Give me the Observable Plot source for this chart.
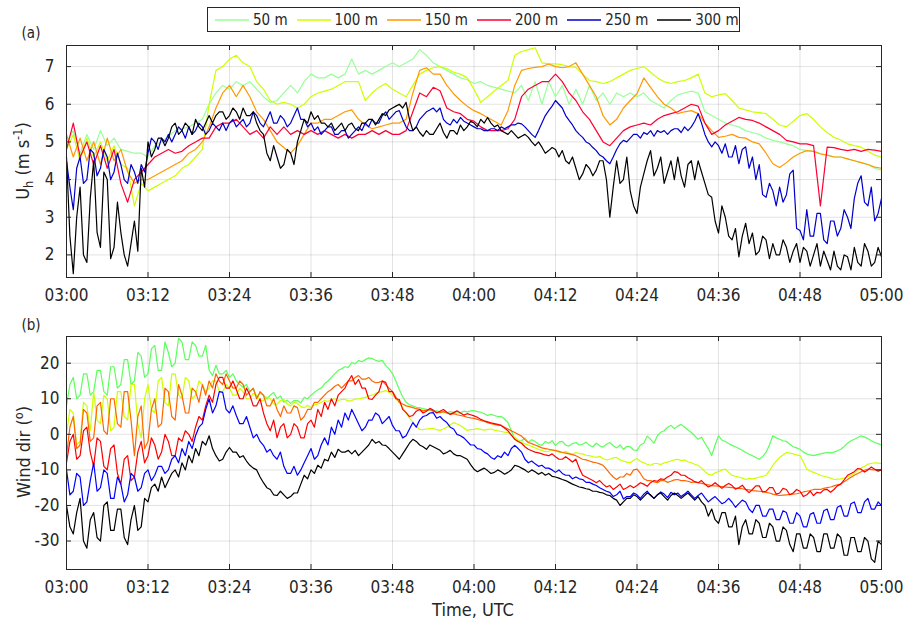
<!DOCTYPE html>
<html><head><meta charset="utf-8">
<script src="https://cdn.jsdelivr.net/npm/d3@7"></script>
<script src="https://cdn.jsdelivr.net/npm/@observablehq/plot@0.6"></script>
<style>
body{margin:0;background:#fff;}
#root{position:relative;width:904px;height:623px;overflow:hidden;font-family:"DejaVu Sans Condensed","DejaVu Sans",sans-serif;font-stretch:condensed;color:#262626;}
.lbl{position:absolute;white-space:nowrap;}
.rot{transform:translate(-50%,-50%) rotate(-90deg);}
#legend{position:absolute;left:207px;top:7px;width:524px;height:23px;border:1px solid #262626;background:#fff;display:flex;align-items:center;padding-left:7px;font-size:15px;box-sizing:content-box;white-space:nowrap;}
#legend .it{display:flex;align-items:center;margin-right:9px;flex-shrink:0;}
#legend svg{margin-right:4px;}
sub,sup{font-size:70%;}
</style></head><body><div id="root"></div>
<script>
// Series below are sampled evenly from 03:00 (0 min) to 05:00 (120 min):
// 121 values = one per minute, 241 values = one per 30 s.
const heights = ["50 m","100 m","150 m","200 m","250 m","300 m"];
const colorsA = ["#99ff99","#ccff00","#ff9900","#ff0033","#0000cc","#000000"];
const colorsB = ["#5cff5c","#ccff00","#ff6600","#ff0000","#0000ff","#000000"];
const xTicks = [0,12,24,36,48,60,72,84,96,108,120];
const xTickLabels = ["03:00","03:12","03:24","03:36","03:48","04:00","04:12","04:24","04:36","04:48","05:00"];
const yTicksA = [2,3,4,5,6,7];
const yTicksB = [-30,-20,-10,0,10,20];

// (a) horizontal wind speed, m/s
const uh50 = [5.0,5.3,4.7,5.2,4.8,5.3,4.9,5.1,4.8,4.75,4.7,
4.7,4.6,4.9,5.0,5.15,5.3,5.35,5.4,5.5,5.6,
6.0,6.3,6.5,6.4,6.6,6.5,6.6,6.4,6.2,6.05,
6.1,6.3,6.5,6.3,6.6,6.8,6.7,6.7,6.8,6.7,
6.8,7.2,6.8,6.9,6.8,6.9,7.0,7.1,7.0,7.1,
7.2,7.45,7.3,7.1,7.0,6.9,6.8,6.7,6.65,6.55,
6.6,6.5,6.45,6.4,6.35,6.3,6.5,6.1,6.6,6.0,
6.6,6.2,6.5,6.0,6.4,6.0,6.5,6.1,6.3,6.0,
6.3,6.2,6.3,6.2,6.3,6.1,6.0,5.9,6.1,6.25,
6.3,6.35,6.3,5.8,5.7,5.6,5.5,5.45,5.4,5.3,
5.25,5.2,5.1,5.04,5.0,4.95,4.9,4.8,4.77,4.75,
4.7,4.65,4.6,4.6,4.55,4.5,4.45,4.4,4.3,4.25];
const uh100 = [4.8,5.2,4.5,5.1,4.6,5.0,4.5,4.9,4.4,4.3,3.3,
3.9,3.7,3.8,3.9,4.0,4.1,4.3,4.4,4.6,4.8,
6.0,6.9,7.0,7.2,7.3,7.1,7.0,6.6,6.4,6.1,
6.0,6.05,6.0,5.9,6.0,6.2,6.3,6.35,6.4,6.5,
6.6,6.6,6.6,6.1,6.3,6.45,6.55,6.4,6.3,6.2,
6.5,6.8,6.9,6.97,7.0,6.95,6.85,6.8,6.7,6.4,
6.05,6.2,6.35,6.5,6.63,7.3,7.4,7.45,7.5,7.1,
7.07,7.07,7.05,7.0,6.98,6.8,6.63,6.6,6.55,6.6,
6.7,6.8,6.9,6.95,7.0,6.85,6.7,6.6,6.55,6.6,
6.63,6.7,6.8,6.3,6.2,6.25,6.28,6.1,5.9,5.85,
5.8,5.78,5.75,5.6,5.45,5.4,5.55,5.7,5.75,5.6,
5.4,5.25,5.12,5.05,4.95,4.9,4.86,4.75,4.65,4.6];
const uh150 = [5.2,4.6,5.1,4.5,5.0,4.4,5.1,4.5,4.8,4.2,3.9,
4.0,4.0,4.1,4.2,4.3,4.4,4.5,4.7,4.8,5.0,
5.4,5.9,6.3,6.5,6.2,6.5,6.2,5.8,5.6,5.3,
5.0,4.85,4.7,4.9,5.2,5.5,5.5,5.6,5.6,5.7,
5.8,5.85,5.6,5.45,5.35,5.4,5.45,5.5,5.5,5.6,
6.3,6.9,6.97,6.8,6.8,6.5,6.28,6.1,5.95,5.83,
5.75,5.65,5.55,5.45,5.83,6.5,6.9,6.95,6.98,7.0,
7.07,7.0,6.97,7.0,7.1,6.8,6.5,6.2,5.7,5.45,
5.6,5.9,6.1,6.28,6.7,6.45,6.2,6.0,5.9,5.75,
5.8,5.83,5.75,5.5,5.3,5.12,5.15,5.2,5.12,5.1,
5.0,4.95,4.7,4.42,4.32,4.45,4.6,4.7,4.77,4.75,
4.68,4.65,4.6,4.6,4.55,4.5,4.45,4.4,4.33,4.3];
const uh200 = [4.8,5.5,4.6,5.0,4.4,4.9,4.3,4.8,3.9,3.4,4.0,
4.2,4.4,4.6,4.7,4.8,4.7,4.75,4.9,5.0,5.1,
5.1,5.4,5.5,5.5,5.6,5.4,5.2,5.3,5.1,5.4,
5.2,5.4,5.2,5.3,5.2,5.3,5.2,5.3,5.2,5.1,
5.2,5.1,5.2,5.2,5.3,5.2,5.3,5.2,5.2,5.3,
5.8,6.3,6.2,6.45,6.36,5.9,5.8,5.75,5.6,5.55,
5.4,5.3,5.3,5.3,5.35,5.6,6.2,6.4,6.5,6.6,
6.6,6.8,6.6,6.3,6.1,5.8,5.6,5.3,5.0,4.9,
5.1,5.3,5.4,5.45,5.5,5.45,5.6,5.7,5.75,5.8,
5.9,6.0,5.95,5.5,5.2,5.3,5.45,5.55,5.65,5.6,
5.57,5.5,5.4,5.3,5.2,5.04,5.0,4.95,4.95,4.9,
3.3,4.86,4.85,4.8,4.77,4.8,4.75,4.8,4.78,4.75];
const uh250 = [4.5,3.8, 3.2,4.3, 4.6,3.9, 4.0,4.8, 4.7,4.1, 4.3,4.8, 4.6,4.0, 4.2,4.7, 4.4,4.0, 3.9,4.4,
4.2,3.9, 4.4,4.2, 4.7,5.1, 5.0,4.8, 5.1,5.0, 5.2,5.0, 5.2,5.4, 5.3,5.1, 5.4,5.2, 5.3,5.5,
5.4,5.2, 5.3,5.5, 5.4,5.3, 5.5,5.3, 5.5,5.6, 5.4,5.5, 5.6,5.4, 5.5,5.8, 5.7,5.5, 5.4,5.6,
5.8,5.5, 5.5,5.7, 5.6,5.4, 5.5,5.7, 5.9,5.6, 5.6,5.4, 5.5,5.3, 5.4,5.2, 5.3,5.4, 5.4,5.2,
5.2,5.3, 5.3,5.1, 5.2,5.3, 5.4,5.3, 5.5,5.4, 5.6,5.5, 5.5,5.7, 5.8,5.6, 5.7,5.8, 5.83,5.6,
5.4,5.3, 5.3,5.4, 5.6,5.7, 5.8,5.85, 5.9,5.8, 5.9,5.6, 5.5,5.45, 5.6,5.5, 5.65,5.55, 5.5,5.45,
5.4,5.35, 5.35,5.3, 5.3,5.35, 5.35,5.3, 5.4,5.35, 5.4,5.45, 5.45,5.5, 5.48,5.4, 5.3,5.2, 5.12,5.3,
5.5,5.7, 5.83,5.95, 6.1,6.0, 5.9,5.7, 5.57,5.45, 5.3,5.2, 5.12,5.0, 4.95,4.85, 4.77,4.65, 4.6,4.5,
4.42,4.6, 4.8,4.95, 5.04,5.0, 5.1,5.2, 5.2,5.1, 5.25,5.2, 5.3,5.15, 5.3,5.25, 5.3,5.2, 5.3,5.35,
5.35,5.25, 5.4,5.3, 5.4,5.55, 5.75,5.5, 5.2,5.0, 4.87,5.0, 4.9,4.7, 4.95,4.6, 4.6,4.9, 4.42,4.8,
4.87,4.3, 4.6,4.0, 4.4,3.6, 3.53,3.9, 3.7,3.3, 3.8,3.4, 3.6,4.15, 4.25,2.7, 2.65,2.4, 3.2,2.5,
2.5,3.1, 3.1,2.4, 2.3,2.9, 2.9,2.5, 2.7,3.2, 3.0,2.7, 3.5,3.9, 4.1,3.4, 3.3,3.8, 2.9,3.1,
3.5];
const uh300 = [4.6,2.5, 1.5,3.0, 3.8,2.0, 1.8,3.5, 4.5,2.6, 2.2,4.2, 4.0,1.9, 2.2,3.4, 2.6,2.0, 1.7,2.3,
2.9,2.1, 4.3,3.8, 5.0,4.6, 4.8,5.1, 5.1,4.9, 5.1,5.4, 5.5,5.2, 5.3,5.5, 5.4,5.2, 5.6,5.4,
5.3,5.5, 5.7,5.5, 5.7,5.8, 5.8,5.6, 5.7,5.9, 5.8,5.6, 5.9,5.7, 5.7,5.8, 5.5,5.3, 5.2,4.7,
4.5,4.9, 4.6,4.3, 4.4,4.8, 4.7,4.4, 5.0,5.3, 5.6,5.5, 5.8,5.6, 5.7,5.5, 5.5,5.4, 5.5,5.3,
5.4,5.5, 5.3,5.45, 5.5,5.35, 5.3,5.5, 5.5,5.6, 5.6,5.45, 5.6,5.75, 5.7,5.85, 5.9,5.95, 6.0,5.9,
6.05,5.6, 5.3,5.4, 5.25,5.15, 5.3,5.2, 5.2,5.35, 5.5,5.25, 5.1,5.3, 5.3,5.2, 5.45,5.3, 5.4,5.55,
5.5,5.4, 5.6,5.5, 5.65,5.5, 5.4,5.45, 5.3,5.25, 5.2,5.3, 5.2,5.1, 5.15,5.2, 5.12,5.0, 4.9,5.0,
4.86,4.7, 4.77,4.85, 4.8,4.6, 4.77,4.5, 4.42,4.6, 4.3,4.0, 4.15,4.4, 4.3,4.1, 4.25,4.5, 4.5,4.0,
3.0,3.8, 4.5,3.9, 4.0,4.6, 3.7,3.3, 3.1,3.8, 4.15,4.5, 4.77,4.1, 4.3,4.6, 3.9,4.2, 4.5,4.0,
4.6,4.1, 3.8,4.4, 4.5,4.0, 4.5,4.2, 3.9,3.6, 3.53,2.9, 2.58,3.3, 3.0,2.5, 2.4,2.7, 1.95,2.5,
2.84,2.3, 2.58,2.0, 2.1,2.5, 2.4,1.9, 2.3,2.0, 2.0,2.4, 2.2,1.8, 2.1,2.3, 1.8,2.2, 2.1,1.7,
2.0,2.3, 1.7,2.1, 1.85,1.6, 2.1,1.7, 1.6,2.0, 1.95,1.6, 2.2,1.8, 1.7,2.3, 2.1,1.7, 1.8,2.2,
1.95];

// (b) wind direction, degrees
const dir50 = [8,14, 16,10, 11,17, 17,11, 12,18, 18,12, 11,19, 19,13, 14,21, 21,14,
15,23, 22,16, 17,24, 25,18, 18,26, 23,19, 20,27, 26,21, 21,26, 25,22,
22,25, 18,16.5, 19.4,17, 17,18, 16,17, 15,14, 13.2,14, 12,12.8, 10.4,11.5, 11,10,
11,11.8, 10,10.8, 9,9.6, 8.7,9.5, 9.5,8.8, 10.4,10, 11,11.8, 12.5,13, 14.2,15, 16,17,
18,18.4, 19,18.8, 20.2,19.8, 20.8,20.4, 21,21.5, 21.3,20.8, 20.5,20.8, 19.3,18.4, 17,15, 12.6,10.5,
9,8.3, 8,7.6, 7.5,7.2, 7,6.7, 6.5,6.6, 6.3,6.1, 6.1,6.4, 6.2,6.0, 6.1,6.5, 6.3,6.6,
6.7,6.4, 6.2,5.8, 5.3,5.6, 5.3,5.0, 5.0,4.3, 3.3,1, -1.4,-2, -1.8,-1, -2.3,-1.5, -2.0,-2.8,
-3.1,-2, -2.5,-1.8, -3.1,-2.2, -2.0,-3, -3.3,-2.6, -2.3,-3, -2.8,-2.2, -3.1,-3.5, -2.5,-3.2, -3.6,-2.8,
-2.3,-3.2, -3.8,-3, -4.2,-3.4, -3.5,-4.4, -4.5,-3, -2.5,-0.5, -1.4,-2.5, -0.4,0.6, 1.0,2, 2.5,1.6,
2.3,2.8, 2.0,1.2, 0.5,-0.4, -1.4,-0.8, -2.5,-4, -6.0,-3, -0.4,-1.6, -2.0,-2.6, -3.1,-3.5, -4.0,-4.5,
-5.1,-5.6, -6.0,-6.5, -7.0,-6.2, -5.1,-3, -0.4,-1, -1.4,-1.8, -2.0,-2.8, -3.5,-3.8, -4.2,-5, -5.5,-5.8,
-6.0,-5.7, -5.5,-5.3, -5.1,-5.2, -5.0,-4.6, -4.2,-3.4, -2.5,-1.8, -1.4,-0.9, -0.4,-0.8, -1.2,-1.8, -2.3,-2.6,
-3.0];
const dir100 = [0,7, 6,-3, -2,9, 8,1, 12,4, 3,11, 10,1, 2,12, 12,5, 4,14,
14,3, -1,10, 14,7, 6,15, 16,9, 8,17, 17,11, 10,16, 15,10, 11,15,
14,12, 13,15, 15,12, 12,14, 13,11, 11,13, 12,10, 10,11.5, 11,9.5, 9.5,10.5,
10,8.5, 8.5,9.5, 9.8,8.5, 8,9, 8.7,7.8, 7.5,8.2, 7.5,8.3, 8.5,9, 9.5,9.2, 9.8,10,
9.5,9.8, 9.8,9.4, 9.5,9.9, 10,10.2, 10.4,10.8, 11,11.5, 11.8,12, 12.3,11.8, 11,10, 9,7.5,
6.1,4.5, 3.5,2.2, 1.4,1.3, 1.5,1.6, 1.7,1.3, 1.1,1.5, 2.0,2.7, 3.3,2.9, 2.5,1.8, 1.1,1.3,
1.4,1.6, 1.4,1.2, 1.4,1.5, 1.2,1.0, 0.8,0.6, 0.5,-0.2, -0.8,-1.6, -2.3,-2.7, -3.0,-3.4, -3.8,-4.2,
-4.5,-4.9, -4.8,-4.3, -4.5,-5.0, -5.1,-4.8, -5.3,-5.6, -5.1,-5.4, -5.5,-5.9, -6.0,-6.3, -6.5,-6.2, -6.8,-7.2,
-7.0,-6.6, -6.5,-7.2, -7.5,-7.8, -8.0,-7.3, -6.8,-7.6, -8.0,-8.4, -8.7,-8.2, -8.2,-8.5, -8.0,-7.8, -7.5,-7.2,
-7.0,-7.4, -7.2,-7.7, -8.0,-8.4, -8.7,-9.5, -10.5,-11.2, -11.5,-10.8, -10.5,-10, -9.8,-10.7, -11.5,-11.8, -12.0,-12.3,
-12.7,-12.4, -12.5,-12.3, -12.0,-11.8, -11.5,-10.3, -8.7,-7.5, -6.5,-5.8, -5.1,-5.3, -5.5,-5.8, -6.0,-7.8, -9.8,-10.3,
-10.7,-11.1, -11.5,-11.8, -12.0,-12.3, -12.7,-12.6, -12.5,-12.3, -12.0,-11.5, -11.0,-10.2, -9.5,-9, -8.4,-8.2, -8.0,-8.1,
-8.2];
const dir150 = [-6,2, 5,-4, -3,7, 6,-2, -1,8, 9,1, 0,10, 10,3, 2,12, 12,4,
-6,5, 8,-4, -2,7, 10,2, 3,13, 12,5, 4,14, 11,6, 6,13, 12,9,
14,11, 15,13, 17,15, 14,17, 15,13, 13,15, 14,11, 12,13, 10,12, 11,8,
8,10, 7,5, 8,6, 6,8, 7.5,4, 5,7, 7,9, 9,10, 11,12, 12.6,13.5,
14,13, 14,15, 15,16, 16.5,15.5, 15.5,16, 15,14.5, 14.6,15, 14,13, 12,10.5, 9,8.5,
8,7.8, 7.5,7.2, 7,6.6, 6.8,7, 6.5,6.2, 6.1,6.4, 6,5.7, 5.8,5.5, 5.3,5.1, 4.8,4.6,
4.5,4.2, 3.9,3.6, 3.3,3.0, 2.8,2.6, 2.5,2, 1.5,1, 0.5,0, -0.5,-1.5, -2.3,-2.6, -3.0,-3.4,
-3.8,-4, -4.2,-4.4, -4.6,-4.8, -5.1,-5.3, -5.5,-5.7, -6.0,-6.5, -7.0,-7.2, -7.5,-7.8, -8.0,-8.3, -8.7,-9.8,
-11,-12, -12.7,-12, -12,-11, -11.5,-10, -9.8,-11, -12.5,-13, -13,-13.4, -13.6,-13, -13,-13.5, -13.2,-12.8,
-12.7,-13, -13,-13.2, -13.5,-13.4, -13.6,-13.8, -14,-14.2, -14.4,-14.5, -14.6,-14.7, -14.8,-14.9, -15,-15.1, -15.2,-15.3,
-15.5,-15.6, -15.8,-15.9, -16,-16.1, -16.3,-16.5, -16.8,-17, -17.2,-17.1, -17,-16.9, -16.8,-16.7, -16.5,-16.2, -16,-15.8,
-15.5,-15.5, -15.5,-15.2, -15,-14.8, -14.5,-14.2, -14,-13.3, -12.7,-12.1, -11.5,-11, -10.5,-10.1, -9.8,-9.9, -10,-10,
-10];
const dir200 = [-8,-2, 0,-7, -6,1, 2,-5, -9,-1, -2,-9, -10,-4, -3,-11, -14,-7, -6,-13,
-12,-5, -2,-8, -6,-1, -3,-7, -5,0, -2,-6, -6,-1, -2,1, 0,-2, 2,5,
4,8, 11,9, 14,16, 16,13, 13,15, 12.6,10, 10,13, 11,8, 8,10, 6,3,
1,4, -1,2, 3,-1, 0,3, 2,-1, -1,3, 4,2, 7,5, 9,7, 10,8,
11,12, 13,15, 16.5,14, 15.4,13, 13,10, 9.8,11, 12,15, 14.6,12, 12,10, 9.8,7,
6.1,5, 5.3,6.5, 7,6, 6.5,7.3, 6.8,6, 6.5,7, 6.2,5.6, 6.1,6.6, 6.0,5.4, 5.8,5.5,
5.2,4.8, 4.2,3.8, 3.5,3.2, 3.0,2.8, 2.5,1.8, 1.0,-0.2, -1.4,-2, -2.5,-3.5, -4.2,-4.6, -5.0,-5.2,
-5.5,-5.8, -6,-5.5, -6.3,-7, -7,-6.3, -7,-7.8, -7,-9.5, -11.5,-12, -12.5,-13, -13.6,-13, -14,-14.8,
-14.4,-15.5, -14.8,-14, -15.5,-15, -14.4,-15, -14.4,-13.6, -14,-14.6, -13.6,-13, -13.2,-12.5, -12.7,-12, -11.5,-10.5,
-10.7,-11.5, -11.5,-12.2, -12.7,-13.3, -13.6,-13, -14,-14.8, -14.4,-13.6, -14.4,-15.2, -14.4,-13.8, -14.4,-15.4, -15,-14.3,
-15.5,-16.4, -15.5,-14.5, -14.5,-16.2, -16,-15, -15,-16.8, -16.5,-15.2, -15.5,-17, -16.5,-15.5, -16,-17.5, -17,-16,
-17.2,-16.3, -16.5,-15.6, -15.5,-16.3, -15.5,-14.5, -14,-12.8, -11.5,-11, -10.5,-9.6, -9.8,-10.6, -10,-9.2, -9.8,-10.4,
-10];
const dir250 = [-10,-17, -16,-11, -12,-20, -19,-13, -8,-16, -15,-10, -11,-18, -18,-12, -14,-19, -17,-11,
-12,-16, -15,-11, -10,-13, -11.5,-9, -9,-11, -10,-7, -6,-8, -4,-6, -2,-4, -0.4,2,
3,7, 10,6, 8,12, 11.8,7, 6,8, 5.3,3, 3,5, 2,-1, 0,-2, -3.1,-5,
-4.2,-6, -7,-5, -9,-11, -11,-9, -11.5,-10, -8,-6, -4,-7, -6,-3, -1,-3, 2,0,
4,2, 6,4, 7,5, 3,1, 2,4, 4,6, 5.3,3, 4,5, 2.5,1, 1,-1,
-0.4,1.5, 3.3,2, 4,5, 5.3,6, 6.1,4.5, 5,4, 3.3,2, 1.5,0, -0.4,-1, -2,-3,
-3,-4, -4.2,-5, -5.5,-6.5, -7,-6, -6.5,-5, -6,-4, -3.1,-4, -5,-7, -8,-7.5, -8.3,-9,
-8.7,-9.5, -9.5,-10, -10.7,-10, -11,-11.5, -11.5,-12.5, -12,-12.5, -12.7,-13.5, -13.5,-14, -14.4,-15, -15.5,-16,
-16.3,-17.5, -17,-16, -18.2,-17.5, -17.5,-16.5, -17,-18, -16.8,-16, -17.2,-18, -17,-16.2, -16.8,-17.8, -16.3,-17,
-16.5,-17.5, -16.8,-16, -17,-18, -17.2,-16.5, -17.8,-19, -18.2,-17.5, -18.5,-19.5, -19,-18, -19.1,-20.5, -19.5,-18.5,
-19,-21, -22,-20, -20,-23, -23,-21, -21,-24, -24,-21.5, -22,-25, -25,-22, -23,-26, -26,-22.5,
-22,-25, -25,-21.5, -21,-24, -24,-20.5, -20,-23, -23,-19.5, -19,-22, -22,-19, -18,-21, -21,-19,
-20];
const dir300 = [-20,-26, -28,-22, -18,-30, -32,-24, -22,-29, -30,-20, -19,-27, -27,-21, -21,-29, -31,-24,
-20,-27, -26,-18, -19,-15, -14,-16, -12,-15, -13,-11, -10,-12, -8,-10, -6,-8, -4,-6,
-2,-3, -0.4,-4, -6,-7.5, -7,-5, -3.7,-5, -5,-6.5, -6,-7.5, -8.7,-9.5, -10,-12, -13.6,-15,
-15.5,-17, -17.2,-16, -17,-18, -17.5,-16.5, -16.5,-14, -11.5,-12.5, -10,-11, -8.7,-9.5, -7,-7.5, -5,-6.5,
-4.2,-5, -5,-4.5, -5.5,-4.5, -6,-5, -4,-3, -1.4,-2.5, -2,-3, -3.1,-4, -5,-6, -7,-5.5,
-4,-2.5, -1.4,-2, -3,-3.5, -4.2,-3, -3.5,-4, -4.5,-5.5, -5.1,-4.5, -5.5,-6, -6,-6.5, -7,-8.5,
-9.8,-10.5, -10,-9.5, -10.2,-11, -10.7,-10, -10.5,-11.2, -10.7,-10, -8.7,-9, -9.5,-10, -10.7,-10, -10.5,-11.2,
-10.7,-11.5, -11,-11.8, -12,-12.3, -12.7,-13, -13.5,-14, -14.4,-14.8, -15,-15.3, -15.5,-16, -16,-16.3, -16.5,-17,
-17.2,-18, -18.5,-20, -19,-18, -18,-17, -17.5,-18.5, -17.5,-16.5, -17,-18, -17,-16.5, -17.5,-18.5, -17.2,-16.5,
-17.2,-18, -17.2,-16.5, -17.5,-18.5, -17.5,-19, -20,-23, -21,-24, -25,-22, -22,-26, -26,-23, -31,-26,
-24,-28, -28,-24, -25,-29, -29,-25, -26,-30, -30,-26, -27,-31, -33,-28, -28,-32, -32,-28,
-29,-33, -33,-28, -28,-32, -32,-28, -29,-34, -34,-29, -29,-33, -33,-29, -30,-35, -36,-30,
-31];

const seriesA = [uh50, uh100, uh150, uh200, uh250, uh300];
const seriesB = [dir50, dir100, dir150, dir200, dir250, dir300];

const font = "'DejaVu Sans Condensed','DejaVu Sans',sans-serif";
const root = document.getElementById("root");

function panel({series, colors, yDomain, yTicks, top, height, marginTop, marginBottom, yPad}) {
  const width = 904, marginLeft = 66, marginRight = 23;
  const plotH = height - marginTop - marginBottom;
  const plotW = width - marginLeft - marginRight;
  const tick = 5, axisColor = "#262626";
  const chart = Plot.plot({
    width, height, marginLeft, marginRight, marginTop, marginBottom,
    style: {fontFamily: font, fontSize: "17px", fontStretch: "condensed", color: axisColor, background: "transparent", overflow: "visible"},
    x: {type: "linear", domain: [0, 120]},
    y: {domain: yDomain},
    marks: [
      Plot.ruleX(xTicks, {x: d => d, stroke: "#262626", strokeOpacity: 0.13}),
      Plot.ruleY(yTicks, {y: d => d, stroke: "#262626", strokeOpacity: 0.13}),
      ...series.map((s, k) => Plot.line(s, {x: (d, i) => i * 120 / (s.length - 1), y: d => d, stroke: colors[k], strokeWidth: 1.2})),
      Plot.tickX(xTicks, {x: d => d, stroke: axisColor, insetTop: plotH - tick}),
      Plot.tickX(xTicks, {x: d => d, stroke: axisColor, insetBottom: plotH - tick}),
      Plot.tickY(yTicks, {y: d => d, stroke: axisColor, insetRight: plotW - tick}),
      Plot.tickY(yTicks, {y: d => d, stroke: axisColor, insetLeft: plotW - tick}),
      Plot.axisX(xTicks, {tickSize: 0, tickPadding: 11, label: null, tickFormat: d => xTickLabels[xTicks.indexOf(d)]}),
      Plot.axisY(yTicks, {tickSize: 0, tickPadding: yPad, label: null, tickFormat: d => String(d)}),
      Plot.frame({stroke: axisColor, strokeWidth: 1})
    ]
  });
  chart.style.position = "absolute";
  chart.style.left = "0px";
  chart.style.top = top + "px";
  root.appendChild(chart);
}

panel({series: seriesA, colors: colorsA, yDomain: [1.4, 7.56], yTicks: yTicksA, top: 0, height: 315, marginTop: 45, marginBottom: 38, yPad: 12});
panel({series: seriesB, colors: colorsB, yDomain: [-38, 27.5], yTicks: yTicksB, top: 300, height: 323, marginTop: 36, marginBottom: 54, yPad: 7});

function addLabel(html, left, top, size, rotate) {
  const d = document.createElement("div");
  d.className = "lbl" + (rotate ? " rot" : "");
  d.innerHTML = html;
  d.style.left = left + "px";
  d.style.top = top + "px";
  d.style.fontSize = size + "px";
  if (!rotate) d.style.transform = "translate(-50%,-50%)";
  root.appendChild(d);
}
addLabel("(a)", 31, 33, 15, false);
addLabel("(b)", 31, 325, 15, false);
addLabel("U<sub>h</sub> (m s<sup>-1</sup>)", 23, 161, 18, true);
addLabel("Wind dir (<sup>o</sup>)", 22, 452, 18, true);
addLabel("Time, UTC", 473, 609, 18, false);

// legend
const lg = document.createElement("div");
lg.id = "legend";
heights.forEach((h, k) => {
  const it = document.createElement("div");
  it.className = "it";
  it.innerHTML = `<svg width="34" height="4"><line x1="0" x2="34" y1="2" y2="2" stroke="${colorsA[k]}" stroke-width="1.3"/></svg><span>${h}</span>`;
  lg.appendChild(it);
});
root.appendChild(lg);
</script></body></html>
